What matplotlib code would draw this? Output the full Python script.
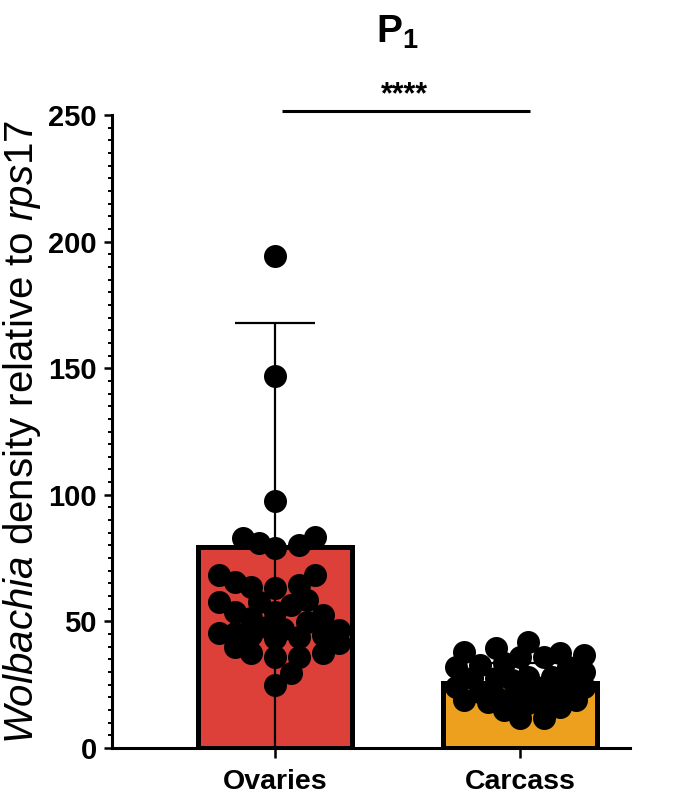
import matplotlib
matplotlib.use("Agg")
import matplotlib.pyplot as plt
import numpy as np

# values
categories = ["Ovaries", "Carcass"]
bar_means = [79.5, 25.6]
bar_sd = [88.5, 8.0]
bar_colors = ["#dc4038", "#eca01e"]

ovaries = [194.5, 147, 97.5, 83.5, 80.8, 82.8, 80.2, 79.0, 65.7, 63.7, 68.3,
           64.4, 68.3, 63.1, 57.8, 57.8, 58.5, 56.5, 52.5, 51.2, 53.8, 53.8,
           49.9, 47.0, 44.6, 41.5, 44.0, 47.9, 44.6, 45.3, 46.6, 45.3, 36.1,
           37.4, 36.1, 37.4, 40.0, 43.3, 29.5, 24.9]
carcass = [36.7, 32.1, 38.0, 39.4, 42.0, 32.8, 32.1, 33.4, 36.1, 37.4, 36.1,
           28.2, 20.3, 24.2, 26.9, 27.5, 24.2, 25.6, 24.2, 28.2, 27.5, 19.0,
           20.3, 18.3, 19.0, 17.6, 11.7, 11.7, 19.0, 19.7, 15.0, 16.0, 22.0,
           23.0, 30.0]
groups = [ovaries, carcass]

plt.rcParams["font.family"] = ["Liberation Sans", "DejaVu Sans"]
plt.rcParams["mathtext.fontset"] = "custom"
plt.rcParams["mathtext.rm"] = "Liberation Sans"
plt.rcParams["mathtext.it"] = "Liberation Sans:italic"
plt.rcParams["mathtext.bf"] = "Liberation Sans:bold"


def swarm_offsets(ax, xc, values, diam_px, min_frac=0.72, max_half=68):
    # greedy beeswarm in pixel space, allowing some overlap like GraphPad
    pts = ax.transData.transform(np.column_stack([np.full(len(values), xc), values]))
    ys = pts[:, 1]
    x0 = pts[0, 0]
    order = np.argsort(ys)
    placed = []
    xs = np.zeros(len(values))
    step = diam_px * 0.35
    cands = [0.0]
    k = 1
    while k * step <= max_half:
        cands += [k * step, -k * step]
        k += 1
    mind = diam_px * min_frac
    for i in order:
        best, best_d = None, -1
        for c in cands:
            d = min([np.hypot(c - px, ys[i] - py) for px, py in placed] or [1e9])
            if d >= mind:
                best = c
                break
            if d > best_d:
                best_d, best = d, c
        placed.append((best, ys[i]))
        xs[i] = best
    back = ax.transData.inverted().transform(np.column_stack([x0 + xs, ys]))
    return back[:, 0]


fig = plt.figure(figsize=(6.85, 7.96), dpi=100)
ax = fig.add_axes([112 / 685, 1 - 748 / 796, (630 - 112) / 685, (748 - 115) / 796])
ax.set_xlim(-0.665, 1.449)
ax.set_ylim(0, 250)

x = np.arange(len(categories))
ax.bar(x, bar_means, width=0.63, color=bar_colors, edgecolor="black",
       linewidth=3.6, zorder=2)
ax.errorbar(x, bar_means, yerr=bar_sd, fmt="none", ecolor="black",
            elinewidth=1.6, capsize=29, capthick=1.6, zorder=3)

diam = 23
for xi, vals in zip(x, groups):
    xs = swarm_offsets(ax, xi, vals, diam)
    ax.scatter(xs, vals, s=(diam * 0.72) ** 2, color="black", linewidths=0,
               zorder=4, clip_on=False)

# axes styling
for side in ["top", "right"]:
    ax.spines[side].set_visible(False)
ax.spines["left"].set_linewidth(2.2)
ax.spines["bottom"].set_linewidth(2.2)
ax.set_yticks(np.arange(0, 251, 50))
ax.set_yticks(np.arange(0, 251, 5), minor=True)
ax.tick_params(axis="y", which="major", length=6, width=1.8, labelsize=21, pad=5)
ax.tick_params(axis="y", which="minor", length=3, width=1.4)
ax.tick_params(axis="x", length=7, width=1.8, labelsize=20.5, pad=8)
ax.set_xticks(x)
ax.set_xticklabels(categories, fontweight="bold")
for lbl in ax.get_yticklabels():
    lbl.set_fontweight("bold")

ax.set_ylabel(r"$\mathit{Wolbachia}$ density relative to $\mathit{rps17}$",
              fontsize=29, labelpad=4)

# significance bar
ax.plot([0.03, 1.04], [251.6, 251.6], color="black", linewidth=2.2,
        clip_on=False, solid_capstyle="butt")
ax.text(0.53, 252, "****", ha="center", va="bottom", fontsize=22,
        fontweight="bold")

fig.text(397 / 685, 1 - 32 / 796, r"$\mathbf{P_1}$", ha="center",
         va="center", fontsize=28, fontweight="bold")

fig.savefig("out.png", dpi=100)
